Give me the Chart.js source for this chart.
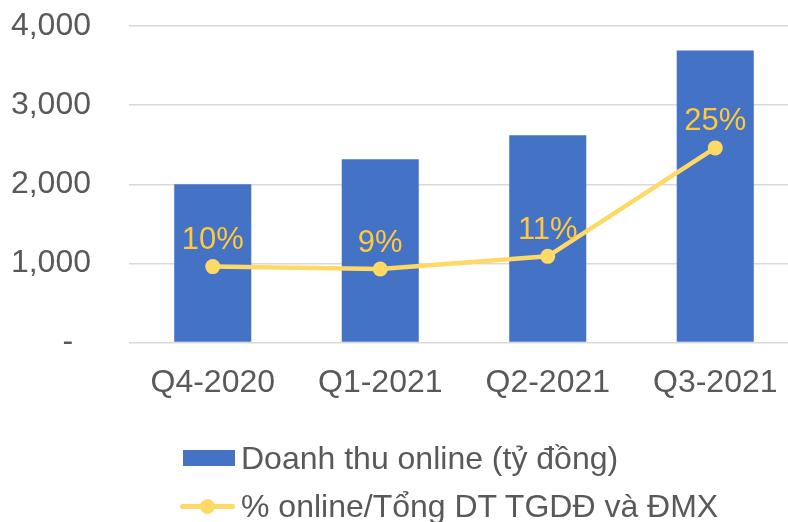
<!DOCTYPE html>
<html>
<head>
<meta charset="utf-8">
<script src="https://cdn.jsdelivr.net/npm/chart.js@4"></script>
<style>
  html, body { margin: 0; padding: 0; background: #fff; overflow: hidden; }
  #wrap { position: relative; width: 800px; height: 522px; }
  #legend {
    position: absolute; left: 180px; top: 434px;
    font-family: "Liberation Sans", Arial, sans-serif; font-size: 32px; color: #595959;
  }
  .item { display: flex; align-items: center; height: 48px; white-space: nowrap; }
  .swatch { width: 55px; height: 36px; margin-right: 6px; position: relative; flex: none; }
</style>
</head>
<body>
<div id="wrap">
  <canvas id="chart" width="800" height="522"></canvas>
  <div id="legend"></div>
</div>
<script>
const quy = ['Q4-2020', 'Q1-2021', 'Q2-2021', 'Q3-2021'];
const doanhThu = [2000, 2315, 2620, 3690];
const tyLeOnline = [9.6, 9.3, 10.9, 24.6];
const nhanTruc = ['4,000', '3,000', '2,000', '1,000', '-  '];

const mauCot = '#4472C4';
const mauDuong = '#FFD966';
const mauChu = '#595959';
const phongChu = '"Liberation Sans", Arial, sans-serif';

// nhan % phia tren cac diem
const nhanDuong = {
    id: 'nhanDuong',
    afterDatasetsDraw(chart) {
        const meta = chart.getDatasetMeta(1);
        const ctx = chart.ctx;
        ctx.save();
        ctx.font = '31px ' + phongChu;
        ctx.fillStyle = '#FFC83D';
        ctx.textAlign = 'center';
        ctx.textBaseline = 'middle';
        meta.data.forEach((pt, i) => {
            ctx.fillText(Math.round(tyLeOnline[i]) + '%', pt.x, pt.y - 26);
        });
        ctx.restore();
    }
};

const ctx = document.getElementById('chart').getContext('2d');

const chart = new Chart(ctx, {
    type: 'bar',
    data: {
        labels: quy,
        datasets: [{
            label: 'Doanh thu online (tỷ đồng)',
            data: doanhThu,
            backgroundColor: mauCot,
            categoryPercentage: 1,
            barPercentage: 0.46,
            yAxisID: 'y',
            order: 1
        }, {
            type: 'line',
            label: '% online/Tổng DT TGDĐ và ĐMX',
            data: tyLeOnline,
            borderColor: mauDuong,
            backgroundColor: mauDuong,
            borderWidth: 4.5,
            pointRadius: 7.5,
            pointHoverRadius: 7.5,
            pointBackgroundColor: mauDuong,
            pointBorderWidth: 0,
            tension: 0,
            fill: false,
            yAxisID: 'y1',
            order: 0
        }]
    },
    options: {
        responsive: false,
        animation: false,
        layout: { autoPadding: false, padding: { left: 11, right: 1, top: 26, bottom: 107 } },
        plugins: {
            legend: { display: false },
            tooltip: { enabled: false }
        },
        scales: {
            x: {
                grid: { display: false },
                border: { display: false },
                ticks: {
                    color: mauChu,
                    font: { family: phongChu, size: 32 },
                    padding: 13
                }
            },
            y: {
                min: 0,
                max: 4000,
                afterFit(scale) {
                    scale.width = 118;
                    scale.paddingTop = 0;
                    scale.paddingBottom = 0;
                },
                ticks: {
                    stepSize: 1000,
                    color: mauChu,
                    font: { family: phongChu, size: 32 },
                    padding: 38,
                    callback: (v) => nhanTruc[4 - v / 1000]
                },
                grid: { color: '#D9D9D9', lineWidth: 1.5, drawTicks: false },
                border: { display: false }
            },
            y1: {
                display: false,
                min: 0,
                max: 40
            }
        }
    },
    plugins: [nhanDuong]
});

// chu giai
const legend = document.getElementById('legend');
chart.data.datasets.forEach((ds, i) => {
    const item = document.createElement('div');
    item.className = 'item';
    const sw = document.createElement('div');
    sw.className = 'swatch';
    if (i === 0) {
        sw.innerHTML = '<div style="position:absolute;left:3px;top:10px;width:52px;height:16px;background:' + mauCot + '"></div>';
    } else {
        sw.innerHTML = '<div style="position:absolute;left:0;top:16px;width:55px;height:5px;border-radius:3px;background:' + mauDuong + '"></div>' +
            '<div style="position:absolute;left:20px;top:11px;width:15px;height:15px;border-radius:50%;background:' + mauDuong + '"></div>';
    }
    const txt = document.createElement('span');
    txt.textContent = ds.label;
    item.appendChild(sw);
    item.appendChild(txt);
    legend.appendChild(item);
});
</script>
</body>
</html>
